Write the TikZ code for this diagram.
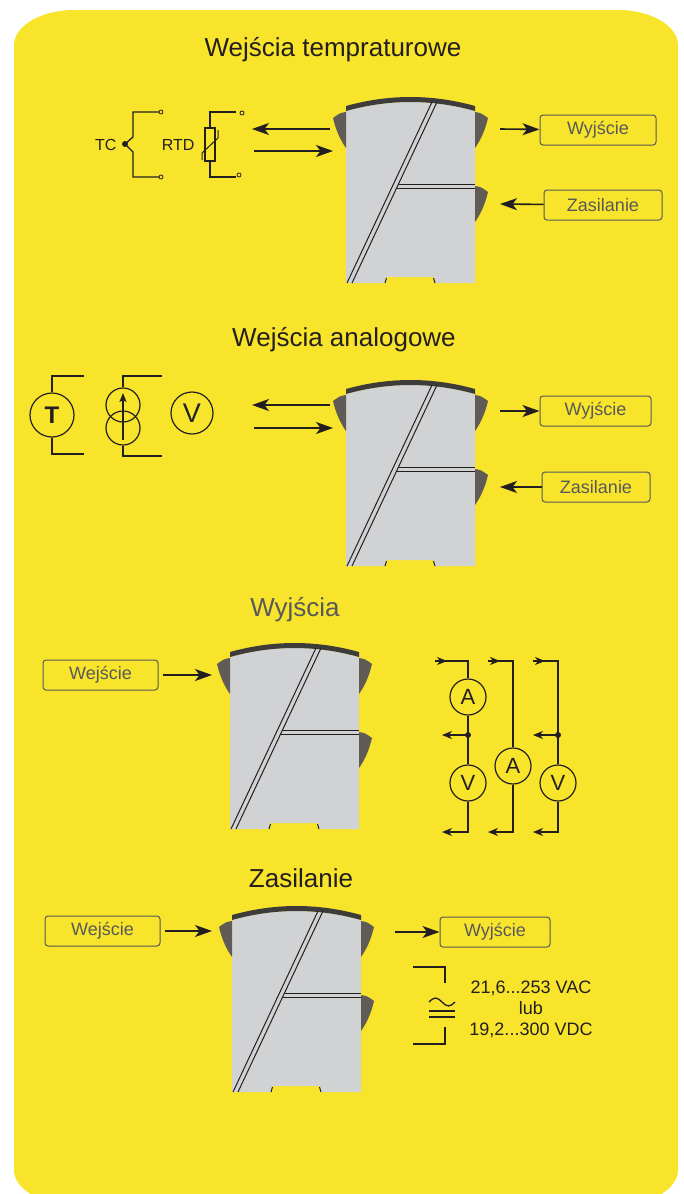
\documentclass[tikz,border=0pt]{standalone}
\usepackage{fontspec}
\setmainfont{Liberation Sans}
\usetikzlibrary{arrows.meta}

\definecolor{tlo}{RGB}{248,228,42}
\definecolor{obudowa}{RGB}{209,210,212}
\definecolor{krawedz}{RGB}{62,60,58}
\definecolor{ucho}{RGB}{96,91,85}
\definecolor{linia}{RGB}{35,31,32}
\definecolor{ramka}{RGB}{88,89,91}

\tikzset{
	wire/.style={line width=1.3pt, draw=linia},
	bigarrow/.style={line width=1.6pt, draw=linia, -{Stealth[length=17pt,width=12pt,inset=4.5pt]}},
	smallarrow/.style={line width=1.2pt, draw=linia, -{Stealth[length=10pt,width=8pt,inset=3pt]}},
	portbox/.style={draw=ramka, line width=1pt, rounded corners=3pt, minimum height=30pt,
		text=ramka, font=\fontsize{18}{18}\selectfont, inner sep=0pt},
	naglowek/.style={anchor=base, text=linia, font=\fontsize{26}{26}\selectfont},
	miernik/.style={circle, draw=linia, line width=1.2pt, minimum size=36pt, inner sep=0pt,
		text=linia, font=\fontsize{22}{22}\selectfont},
	opis/.style={text=linia, font=\fontsize{16}{16}\selectfont, anchor=east},
	modline/.style={line width=1pt, draw=linia}
}

% Obudowa modulu na szyne, lewy gorny naroznik w (#1,#2)
\newcommand\modul[2]{
	\begin{scope}[shift={(#1,#2)}]
		\fill[obudowa] (0,0) .. controls (43,-12) and (86,-12) .. (129,0) -- (129,172)
			-- (89,172) -- (88,166) -- (40,166) -- (39,172) -- (0,172) -- cycle;
		\fill[krawedz] (0,0) .. controls (43,-12) and (86,-12) .. (129,0) -- (129,-5)
			.. controls (86,-17) and (43,-17) .. (0,-5) -- cycle;
		% zaczepy zaciskow
		\fill[ucho] (0,1) .. controls (-6,2) .. (-13,7) .. controls (-10,20) and (-5,30) .. (0,37) -- cycle;
		\fill[ucho] (129,1) .. controls (135,2) .. (142,7) .. controls (139,20) and (134,30) .. (129,37) -- cycle;
		\fill[ucho] (129,75) .. controls (135,76) .. (142,81) .. controls (139,94) and (134,104) .. (129,111) -- cycle;
		% podzial pokrywy
		\draw[modline] (86,-9) -- (1,172);
		\draw[modline] (91,-9) -- (6,172);
		\draw[modline] (52.8,73) -- (129,73);
		\draw[modline] (50.9,77) -- (129,77);
		\draw[modline] (39,172) -- (40.5,167);
		\draw[modline] (89,172) -- (87.5,167);
	\end{scope}
}

\begin{document}
\begin{tikzpicture}[x=1pt, y=-1pt]
	\useasboundingbox (0,0) rectangle (683,1194);

	% Tlo
	\fill[tlo] (14,45) .. controls (14,26) and (41,10) .. (74,10) -- (618,10)
		.. controls (651,10) and (678,26) .. (678,45) -- (678,1170)
		.. controls (678,1189) and (651,1205) .. (618,1205) -- (74,1205)
		.. controls (41,1205) and (14,1189) .. (14,1170) -- cycle;

	% Wejscia temperaturowe
		\node[naglowek] (t1) at (333,56) {Wejścia tempraturowe};
		\modul{346}{111}
		% TC
			\node[opis] (tc) at (120,145) {TC};
			\draw[wire] (159,112) -- (133,112) -- (133,137) -- (125,144) -- (133,152) -- (133,177) -- (159,177);
			\fill[linia] (125,144) circle (3);
			\draw[linia, line width=0.8pt] (161,112) circle (2) (161,177) circle (2);
		% RTD
			\node[opis] (rtd) at (198,145) {RTD};
			\draw[wire] (236,112) -- (210,112) -- (210,128);
			\draw[wire] (205,128) rectangle (215,161);
			\draw[wire] (210,161) -- (210,177) -- (236,177);
			\draw[wire, line width=1pt] (218,130) -- (218,138) -- (202,153) -- (202,160);
			\draw[linia, line width=0.8pt] (242,113) circle (2) (239,175) circle (2);
		% strzalki
			\coordinate (m1a) at (330,129);
			\coordinate (m1b) at (252,129);
			\coordinate (m1c) at (254,151);
			\coordinate (m1d) at (333,151);
			\coordinate (m1e) at (500,129);
			\coordinate (m1f) at (500,204);
			\node[portbox, minimum width=116pt] (wy1) at (598,130) {Wyjście};
			\node[portbox, minimum width=118pt] (zas1) at (603,205) {Zasilanie};
			\draw[bigarrow] (m1a) -- (m1b);
			\draw[bigarrow] (m1c) -- (m1d);
			\draw[bigarrow] (m1e) -- (wy1);
			\draw[bigarrow] (zas1) -- (m1f);

	% Wejscia analogowe
		\node[naglowek] (t2) at (344,346) {Wejścia analogowe};
		\modul{346}{394}
		% T
			\node[miernik, minimum size=44pt, font=\bfseries\fontsize{24}{24}\selectfont] (T) at (52,415) {T};
			\draw[wire] (84,376) -- (52,376) -- (T);
			\draw[wire] (T) -- (52,454) -- (84,454);
		% zrodlo pradowe
			\node[miernik, minimum size=34pt] (zr1) at (123,405) {};
			\node[miernik, minimum size=34pt] (zr2) at (123,428) {};
			\draw[wire] (162,376) -- (123,376) -- (zr1);
			\draw[wire] (zr2) -- (123,456) -- (162,456);
			\draw[wire, -{Stealth[length=9pt,width=7pt,inset=2pt]}] (123,440) -- (123,393);
		% V
			\node[miernik, minimum size=42pt, font=\fontsize{27}{27}\selectfont] (V) at (192,413) {V};
		% strzalki
			\coordinate (m2a) at (330,405);
			\coordinate (m2b) at (252,405);
			\coordinate (m2c) at (254,428);
			\coordinate (m2d) at (333,428);
			\coordinate (m2e) at (500,411);
			\coordinate (m2f) at (500,487);
			\node[portbox, minimum width=111pt] (wy2) at (595.5,411) {Wyjście};
			\node[portbox, minimum width=108pt] (zas2) at (596,487) {Zasilanie};
			\draw[bigarrow] (m2a) -- (m2b);
			\draw[bigarrow] (m2c) -- (m2d);
			\draw[bigarrow] (m2e) -- (wy2);
			\draw[bigarrow] (zas2) -- (m2f);

	% Wyjscia
		\node[naglowek, text=ramka] (t3) at (295,616) {Wyjścia};
		\modul{230}{657}
		\node[portbox, minimum width=115pt] (we3) at (100.5,675) {Wejście};
		\coordinate (m3a) at (212,675);
		\draw[bigarrow, shorten <=4pt] (we3) -- (m3a);
		% mierniki
			\node[miernik] (a1) at (468,697) {A};
			\node[miernik] (v1) at (468,783) {V};
			\node[miernik] (a2) at (513,766) {A};
			\node[miernik] (v2) at (558,783) {V};
			\coordinate (k1g) at (435,661);
			\coordinate (k2g) at (488,661);
			\coordinate (k3g) at (533,661);
			\coordinate (p1) at (468,735);
			\coordinate (p3) at (558,735);
			\coordinate (s1) at (442,735);
			\coordinate (s3) at (533,735);
			\coordinate (k1d) at (442,832);
			\coordinate (k2d) at (488,832);
			\coordinate (k3d) at (533,832);
			% kolumna 1
			\draw[wire] (k1g) -| (a1);
			\draw[wire] (a1) -- (p1) -- (v1);
			\draw[smallarrow] (p1) -- (s1);
			\draw[smallarrow] (v1) |- (k1d);
			% kolumna 2
			\draw[wire] (k2g) -| (a2);
			\draw[smallarrow] (a2) |- (k2d);
			% kolumna 3
			\draw[wire] (k3g) -| (p3);
			\draw[wire] (p3) -- (v2);
			\draw[smallarrow] (p3) -- (s3);
			\draw[smallarrow] (v2) |- (k3d);
			\fill[linia] (p1) circle (3) (p3) circle (3);
			\foreach \k in {k1g,k2g,k3g} {
				\draw[smallarrow] (\k) -- ++(12,0);
			}

	% Zasilanie
		\node[naglowek] (t4) at (301,887) {Zasilanie};
		\modul{232}{920}
		\node[portbox, minimum width=115pt] (we4) at (102.5,931) {Wejście};
		\node[portbox, minimum width=110pt] (wy4) at (495,932) {Wyjście};
		\coordinate (m4a) at (212,931);
		\coordinate (m4b) at (395,932);
		\draw[bigarrow, shorten <=4pt] (we4) -- (m4a);
		\draw[bigarrow] (m4b) -- (wy4);
		% symbol zasilania AC/DC
			\draw[wire] (413,967) -- (445,967) -- (445,983);
			\draw[wire] (445,1027) -- (445,1044) -- (413,1044);
			\draw[wire] (429,1011) -- (455,1011);
			\draw[wire] (429,1017) -- (455,1017);
			\draw[wire] (429,1002) sin (435.5,998) cos (442,1002) sin (448.5,1006) cos (455,1002);
			\node[align=center, text=linia, font=\fontsize{18}{21}\selectfont] (zakres) at (531,1009)
				{21,6...253 VAC\\lub\\19,2...300 VDC};
\end{tikzpicture}
\end{document}
